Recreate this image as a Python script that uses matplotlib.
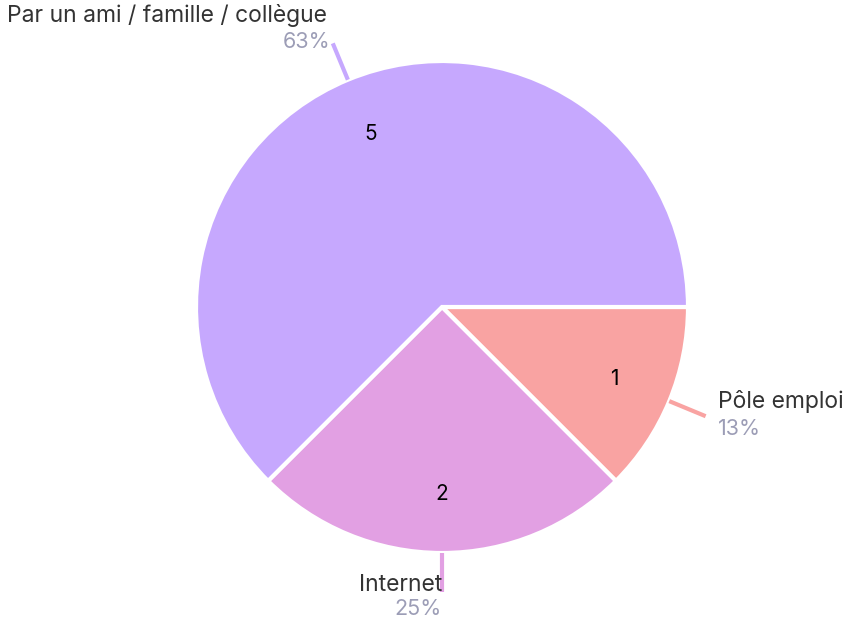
import matplotlib
matplotlib.use("Agg")
import matplotlib.pyplot as plt
import numpy as np

categories = ["Pôle emploi", "Internet", "Par un ami / famille / collègue"]
values = [1, 2, 5]
colors = ["#F9A3A2", "#E2A0E3", "#C6A8FE"]

plt.rcParams['font.family'] = ['Inter', 'DejaVu Sans']

W, H = 846, 621
fig = plt.figure(figsize=(W/100, H/100), dpi=100)
cx, cy, R = 442, 307, 246
ax = fig.add_axes([(cx-R)/W, (H-cy-R)/H, 2*R/W, 2*R/H])
ax.set_xlim(-1, 1)
ax.set_ylim(-1, 1)
ax.set_aspect('equal')
ax.axis('off')

wedges, _ = ax.pie(values, colors=colors, startangle=0, counterclock=False,
                   radius=1, wedgeprops=dict(edgecolor='white', linewidth=3))

total = sum(values)
ax.set_xlim(-1, 1)
ax.set_ylim(-1, 1)

LBL = 16.5
PCT = 15.5
for w, cat, v, col in zip(wedges, categories, values, colors):
    mid = np.deg2rad((w.theta1 + w.theta2) / 2)
    c, s = np.cos(mid), np.sin(mid)
    ax.text(0.76*c, 0.76*s, str(v), ha='center', va='center', fontsize=15, color='black')
    ax.plot([1.0*c, 1.16*c], [1.0*s, 1.16*s], color=col, lw=3, clip_on=False,
            solid_capstyle='butt')
    pct = f"{int(v/total*100 + 0.5)}%"
    ex, ey = 1.16*c, 1.16*s
    if c > 0.3:
        ax.text(ex + 0.05, ey + 0.06, cat, ha='left', va='center', fontsize=LBL, color='#333333')
        ax.text(ex + 0.05, ey - 0.053, pct, ha='left', va='center', fontsize=PCT, color='#9C9DB6')
    elif abs(c) <= 0.3 and s < 0:
        ax.text(ex, ey + 0.03, cat, ha='right', va='center', fontsize=LBL, color='#333333')
        ax.text(ex, ey - 0.068, pct, ha='right', va='center', fontsize=PCT, color='#9C9DB6')
    else:
        ax.text(ex - 0.025, ey + 0.115, cat, ha='right', va='center', fontsize=LBL, color='#333333')
        ax.text(ex - 0.01, ey + 0.007, pct, ha='right', va='center', fontsize=PCT, color='#9C9DB6')

fig.savefig("out.png", dpi=100)
